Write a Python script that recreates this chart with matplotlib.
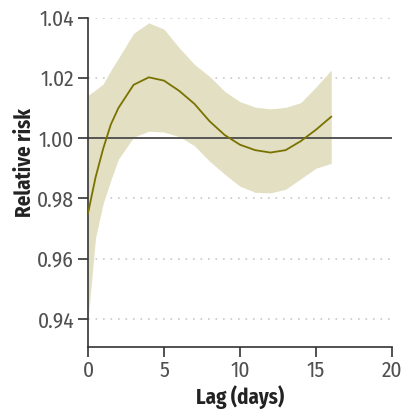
import matplotlib
matplotlib.use("Agg")
import matplotlib.pyplot as plt

# Lag-response curve with 95% CI
lag = [0, 0.5, 1, 1.5, 2, 3, 4, 5, 6, 7, 8, 9, 10, 11, 12, 13, 14, 15, 16]
rr = [0.975, 0.987, 0.9965, 1.0045, 1.0100, 1.0177, 1.0202, 1.0191, 1.0157,
      1.0114, 1.0056, 1.0010, 0.9978, 0.9960, 0.9952, 0.9960, 0.9990, 1.0028, 1.0071]
rr_lo = [0.9396, 0.9670, 0.9783, 0.9860, 0.9930, 1.0003, 1.0023, 1.0020, 1.0005,
         0.9975, 0.9923, 0.9880, 0.9840, 0.9820, 0.9818, 0.9830, 0.9865, 0.9900, 0.9916]
rr_hi = [1.0142, 1.0160, 1.0180, 1.0225, 1.0265, 1.0348, 1.0383, 1.0362, 1.0300,
         1.0245, 1.0205, 1.0155, 1.0121, 1.0103, 1.0097, 1.0102, 1.0118, 1.0170, 1.0226]

xticks = [0, 5, 10, 15, 20]
yticks = [0.94, 0.96, 0.98, 1.00, 1.02, 1.04]

plt.rcParams['font.family'] = ['Fira Sans Condensed', 'DejaVu Sans']

fig = plt.figure(figsize=(4.1, 4.12), dpi=100)
ax = fig.add_axes([0.2146, 0.1585, 0.7415, 0.7985])

for y in yticks:
    if y != 1.00:
        ax.axhline(y, color='#c8c8c8', lw=1.2, ls=(0, (1, 3.5)), zorder=0)

ax.fill_between(lag, rr_lo, rr_hi, color='#e2dfc2', lw=0, zorder=1)
ax.axhline(1.0, color='#555555', lw=1.4, zorder=2)
ax.plot(lag, rr, color='#7a7200', lw=1.3, zorder=3)

ax.set_xlim(0, 20)
ax.set_ylim(0.9307, 1.04)
ax.set_xticks(xticks)
ax.set_yticks(yticks)
ax.set_yticklabels([f"{v:.2f}" for v in yticks])

for s in ['top', 'right']:
    ax.spines[s].set_visible(False)
for s in ['left', 'bottom']:
    ax.spines[s].set_color('#333333')
    ax.spines[s].set_linewidth(1.2)

ax.tick_params(direction='out', length=7, width=1.2, color='#333333',
               labelsize=15.5, labelcolor='#505050', pad=3)

ax.set_xlabel('Lag (days)', fontsize=15, fontweight='bold', color='#222222')
ax.set_ylabel('Relative risk', fontsize=15, fontweight='bold', color='#222222')
ax.xaxis.set_label_coords(0.5, -0.116)
ax.yaxis.set_label_coords(-0.172, 0.56)

fig.savefig('out.png', dpi=100)
